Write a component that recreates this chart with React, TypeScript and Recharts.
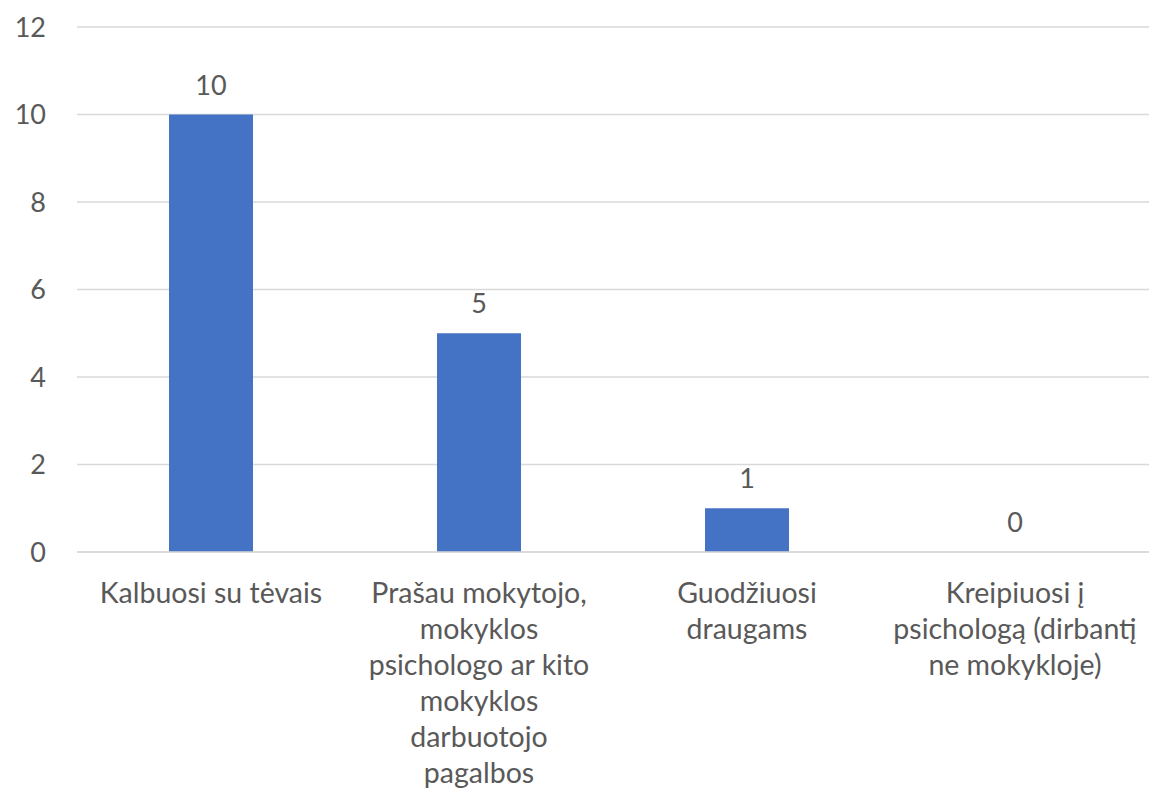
import { BarChart, Bar, XAxis, YAxis, CartesianGrid, LabelList } from 'recharts';

const categories = [
    'Kalbuosi su tėvais',
    'Prašau mokytojo,\nmokyklos\npsichologo ar kito\nmokyklos\ndarbuotojo\npagalbos',
    'Guodžiuosi\ndraugams',
    'Kreipiuosi į\npsichologą (dirbantį\nne mokykloje)',
];
const counts = [10, 5, 1, 0];
const yTicks = [0, 2, 4, 6, 8, 10, 12];

const FONT = 'Lato, "Open Sans", sans-serif';
const TEXT = '#595959';

const data = categories.map((name, i) => ({ name, value: counts[i] }));

// multi-line category labels, one tspan per line
function CategoryTick(props: any) {
    const { x, y, payload } = props;
    const lines = String(payload.value).split('\n');
    return (
        <text x={x} y={y} textAnchor="middle" fill={TEXT} fontSize={28.5} fontFamily={FONT}>
            {lines.map((line, i) => (
                <tspan key={i} x={x} dy={i === 0 ? 51 : 36}>
                    {line}
                </tspan>
            ))}
        </text>
    );
}

export default function App() {
    return (
        <div style={{ position: 'absolute', left: 0, top: 0, width: 1150, height: 804, background: '#fff' }}>
            <BarChart
                width={1150}
                height={804}
                data={data}
                margin={{ top: 27, right: 1, left: 0, bottom: 0 }}
            >
                <CartesianGrid vertical={false} stroke="#D9D9D9" strokeWidth={1.5} />
                <XAxis
                    dataKey="name"
                    axisLine={{ stroke: '#D9D9D9', strokeWidth: 1.5 }}
                    tickLine={false}
                    tickSize={0}
                    tickMargin={0}
                    height={252}
                    interval={0}
                    tick={<CategoryTick />}
                />
                <YAxis
                    width={77}
                    domain={[0, 12]}
                    ticks={yTicks}
                    axisLine={false}
                    tickLine={false}
                    tickSize={6}
                    tickMargin={25}
                    tick={{ fill: TEXT, fontSize: 27, fontFamily: FONT }}
                />
                <Bar
                    dataKey="value"
                    fill="#4472C4"
                    barSize={84}
                    minPointSize={(v: number) => (v === 0 ? 0.01 : 0)}
                    isAnimationActive={false}
                >
                    <LabelList
                        dataKey="value"
                        position="top"
                        offset={20}
                        fill={TEXT}
                        fontSize={27}
                        fontFamily={FONT}
                    />
                </Bar>
            </BarChart>
        </div>
    );
}
